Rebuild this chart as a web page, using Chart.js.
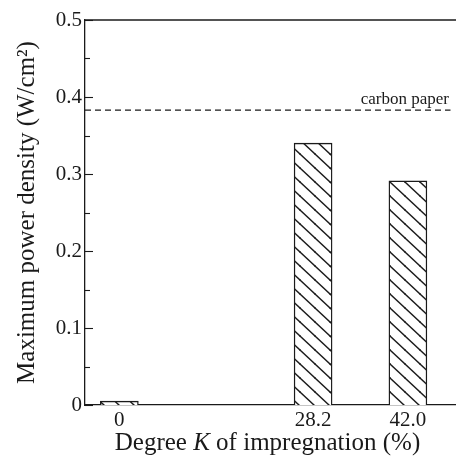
<!DOCTYPE html>
<html>
<head>
<meta charset="utf-8">
<script src="https://cdn.jsdelivr.net/npm/chart.js@4/dist/chart.umd.min.js"></script>
<style>
  html, body { margin: 0; padding: 0; background: #fff; }
  #wrap { width: 456px; height: 462px; }
</style>
</head>
<body>
<div id="wrap"><canvas id="chart" width="456" height="462"></canvas></div>
<script>
// Data
const degrees = [0, 28.2, 42.0];
const degreeLabels = ['0', '28.2', '42.0'];
const maxPower = [0.005, 0.340, 0.291];
const carbonPaper = 0.383;
const yTicks = [0, 0.1, 0.2, 0.3, 0.4, 0.5];
const yMinorTicks = [0.05, 0.15, 0.25, 0.35, 0.45];

const SERIF = '"Liberation Serif", "DejaVu Serif", serif';
const INK = '#1a1a1a';

// hatch pattern "\\\" for the bars
function makeHatch() {
    const w = 15, h = 14;
    const c = document.createElement('canvas');
    c.width = w; c.height = h;
    const g = c.getContext('2d');
    g.fillStyle = '#fff';
    g.fillRect(0, 0, w, h);
    g.strokeStyle = INK;
    g.lineWidth = 1.4;
    [[0, 0], [-w, 0], [0, -h], [w, 0], [0, h]].forEach(([ox, oy]) => {
        g.beginPath();
        g.moveTo(ox - w, oy - h);
        g.lineTo(ox + 2 * w, oy + 2 * h);
        g.stroke();
    });
    return g.createPattern(c, 'repeat');
}

// Frame, inward ticks, reference label and x title
const framePlugin = {
    id: 'frame',
    afterDatasetsDraw(chart) {
        const { ctx, chartArea: a, scales } = chart;
        const y = scales.y;
        ctx.save();
        ctx.strokeStyle = INK;
        ctx.lineWidth = 1.3;
        // top line
        ctx.beginPath();
        ctx.moveTo(a.left, a.top);
        ctx.lineTo(a.right, a.top);
        ctx.stroke();
        // inward ticks on y axis
        ctx.lineWidth = 1.1;
        yTicks.forEach(v => {
            const py = Math.round(y.getPixelForValue(v)) + 0.5;
            ctx.beginPath();
            ctx.moveTo(a.left, py);
            ctx.lineTo(a.left + 8, py);
            ctx.stroke();
        });
        yMinorTicks.forEach(v => {
            const py = Math.round(y.getPixelForValue(v)) + 0.5;
            ctx.beginPath();
            ctx.moveTo(a.left, py);
            ctx.lineTo(a.left + 5, py);
            ctx.stroke();
        });
        // label of the dashed line
        ctx.fillStyle = INK;
        ctx.font = '17px ' + SERIF;
        ctx.textAlign = 'right';
        ctx.textBaseline = 'alphabetic';
        ctx.fillText('carbon paper', a.right - 7, y.getPixelForValue(carbonPaper) - 6);
        // x axis title with italic K
        const parts = [
            { t: 'Degree ', f: '25px ' + SERIF },
            { t: 'K', f: 'italic 25px ' + SERIF },
            { t: ' of impregnation (%)', f: '25px ' + SERIF }
        ];
        let total = 0;
        parts.forEach(p => { ctx.font = p.f; p.w = ctx.measureText(p.t).width; total += p.w; });
        let x = (a.left + a.right) / 2 - 3 - total / 2;
        ctx.textAlign = 'left';
        parts.forEach(p => {
            ctx.font = p.f;
            ctx.fillText(p.t, x, 450);
            x += p.w;
        });
        ctx.restore();
    }
};

const ctx = document.getElementById('chart').getContext('2d');
new Chart(ctx, {
    data: {
        datasets: [
            {
                type: 'bar',
                data: degrees.map((d, i) => ({ x: d, y: maxPower[i] })),
                backgroundColor: makeHatch(),
                borderColor: INK,
                borderWidth: 1.4,
                barThickness: 38
            },
            {
                type: 'line',
                data: [{ x: -5, y: carbonPaper }, { x: 48.2, y: carbonPaper }],
                borderColor: INK,
                borderWidth: 1.2,
                borderDash: [6, 4],
                pointRadius: 0,
                fill: false
            }
        ]
    },
    options: {
        responsive: false,
        animation: false,
        layout: { padding: { top: 20, right: 0, left: 0, bottom: 0 } },
        plugins: {
            legend: { display: false },
            tooltip: { enabled: false }
        },
        scales: {
            x: {
                type: 'linear',
                offset: false,
                min: -5,
                max: 49,
                afterBuildTicks: s => { s.ticks = degrees.map(v => ({ value: v })); },
                afterFit: s => { s.height = 57; },
                grid: { display: false, drawTicks: false },
                border: { display: true, color: INK, width: 1.3 },
                ticks: {
                    padding: 3,
                    color: INK,
                    font: { family: SERIF, size: 21 },
                    callback: v => degreeLabels[degrees.indexOf(v)]
                }
            },
            y: {
                min: 0,
                max: 0.5,
                afterBuildTicks: s => { s.ticks = yTicks.map(v => ({ value: v })); },
                afterFit: s => { s.width = 85; },
                grid: { display: false, drawTicks: false },
                border: { display: true, color: INK, width: 1.3 },
                ticks: {
                    padding: 3,
                    color: INK,
                    font: { family: SERIF, size: 21 },
                    callback: v => (v === 0 ? '0' : v.toFixed(1))
                },
                title: {
                    display: true,
                    text: 'Maximum power density (W/cm²)',
                    color: INK,
                    font: { family: SERIF, size: 25 },
                    padding: { top: 12, bottom: 0 }
                }
            }
        }
    },
    plugins: [framePlugin]
});
</script>
</body>
</html>
